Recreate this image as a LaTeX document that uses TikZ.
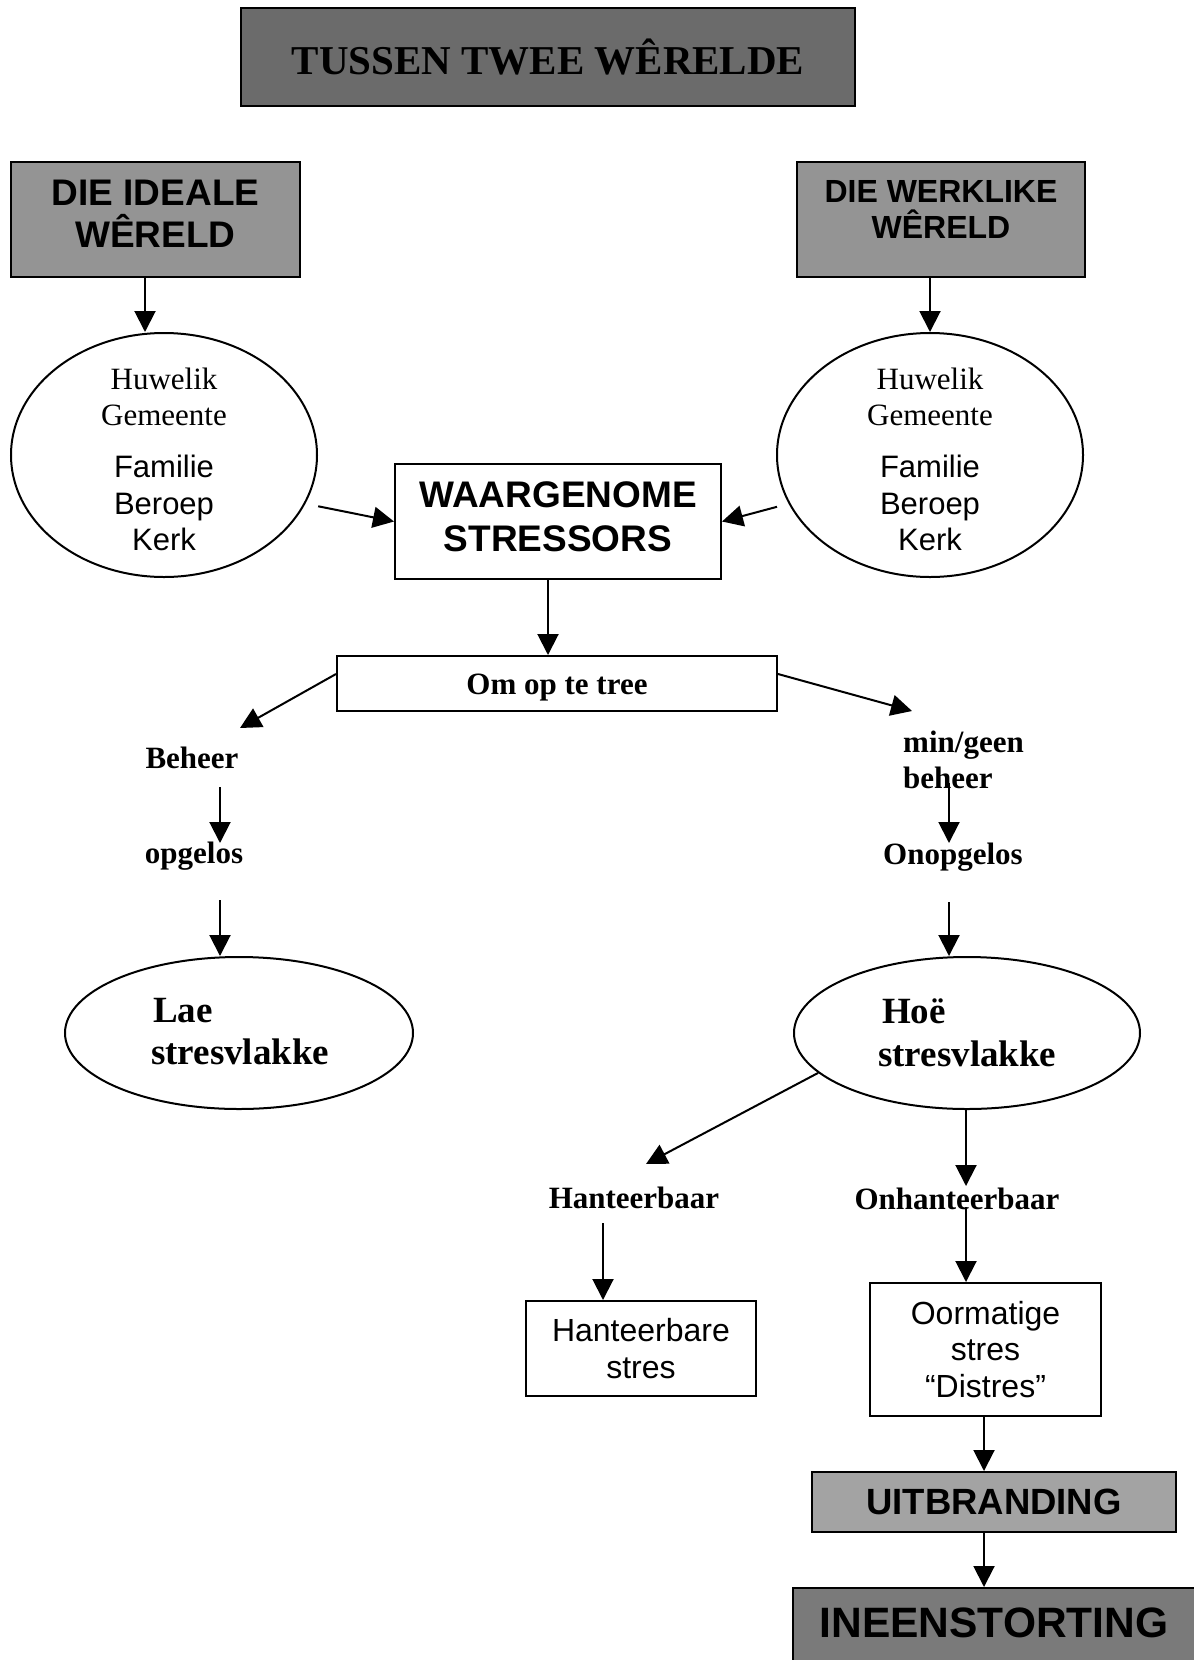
\documentclass[tikz,border=0pt]{standalone}
\usepackage{fontspec}
\setmainfont{Liberation Serif}
\setsansfont{Liberation Sans}
\usetikzlibrary{shapes.geometric,arrows.meta}
\begin{document}
\begin{tikzpicture}[x=1pt,y=-1pt,
  arr/.style={line width=2pt,-{Triangle[length=21pt,width=21pt]}},
  box/.style={draw,line width=2pt,rectangle,inner sep=0pt,align=center},
  ell/.style={draw,line width=2pt,ellipse,inner sep=0pt},
  ln/.style={inner sep=0pt,anchor=base},
  lbl/.style={inner sep=0pt,anchor=base,font=\fontsize{31}{36}\selectfont\bfseries},
  big/.style={inner sep=0pt,anchor=base west,font=\fontsize{37}{42}\selectfont\bfseries},
  ser/.style={ln,font=\fontsize{31}{36}\selectfont},
  san/.style={ln,font=\sffamily\fontsize{31}{36}\selectfont},
]
\useasboundingbox (0,0) rectangle (1194,1660);

% title
\node[box,fill=black!58,minimum width=614pt,minimum height=98pt,
  font=\fontsize{41}{45}\selectfont\bfseries] (title) at (548,57) {TUSSEN TWEE WÊRELDE};

% top boxes
\node[box,fill=black!42,minimum width=289pt,minimum height=115pt,text depth=12pt,
  font=\sffamily\bfseries\fontsize{37}{42}\selectfont] (ideale) at (155.5,219.5) {DIE IDEALE\\WÊRELD};
\node[box,fill=black!42,minimum width=288pt,minimum height=115pt,text depth=20pt,
  font=\sffamily\bfseries\fontsize{32}{36}\selectfont] (werklike) at (941,219.5) {DIE WERKLIKE\\WÊRELD};

% ellipses
\node[ell,minimum width=306pt,minimum height=244pt] (ellL) at (164,455) {};
\node[ser] (lHuw) at (164,389) {Huwelik};
\node[ser] (lGem) at (164,425) {Gemeente};
\node[san] (lFam) at (164,477) {Familie};
\node[san] (lBer) at (164,514) {Beroep};
\node[san] (lKer) at (164,550) {Kerk};

\node[ell,minimum width=306pt,minimum height=244pt] (ellR) at (930,455) {};
\node[ser] (rHuw) at (930,389) {Huwelik};
\node[ser] (rGem) at (930,425) {Gemeente};
\node[san] (rFam) at (930,477) {Familie};
\node[san] (rBer) at (930,514) {Beroep};
\node[san] (rKer) at (930,550) {Kerk};

% stressors
\node[box,minimum width=326pt,minimum height=115pt,text depth=9pt,
  font=\sffamily\bfseries\fontsize{37}{44}\selectfont] (stressors) at (558,521.5) {WAARGENOME\\STRESSORS};

\node[box,minimum width=440pt,minimum height=55pt,text height=22pt,text depth=0pt,
  font=\fontsize{31}{36}\selectfont\bfseries] (tree) at (557,683.5) {Om op te tree};

% left branch
\node[lbl] (beheer) at (192,768) {Beheer};
\node[lbl] (opgelos) at (194,863) {opgelos};
\node[ell,minimum width=348pt,minimum height=152pt] (lae) at (239,1033) {};
\node[big] (laeA) at (153,1022) {Lae};
\node[big] (laeB) at (151,1064) {stresvlakke};

% right branch
\node[lbl,anchor=base west] (mingeenA) at (903,752) {min/geen};
\node[lbl,anchor=base west] (mingeenB) at (903,788) {beheer};
\node[lbl] (onopgelos) at (953,864) {Onopgelos};
\node[ell,minimum width=346pt,minimum height=152pt] (hoe) at (967,1033) {};
\node[big] (hoeA) at (882,1023) {Hoë};
\node[big] (hoeB) at (878,1066) {stresvlakke};

\node[lbl] (hanteerbaar) at (634,1208) {Hanteerbaar};
\node[lbl] (onhanteerbaar) at (957,1209) {Onhanteerbaar};

\node[box,minimum width=230pt,minimum height=95pt,
  font=\sffamily\fontsize{32}{37}\selectfont] (hstres) at (641,1348.5) {Hanteerbare\\stres};
\node[box,minimum width=231pt,minimum height=133pt,
  font=\sffamily\fontsize{32}{36.5}\selectfont] (distres) at (985.5,1349.5) {Oormatige\\stres\\“Distres”};

\node[box,fill=black!36,minimum width=364pt,minimum height=60pt,
  font=\sffamily\bfseries\fontsize{36.5}{40}\selectfont] (uitbranding) at (994,1502) {UITBRANDING};
\node[box,fill=black!52,minimum width=402pt,minimum height=76pt,text depth=6pt,
  font=\sffamily\bfseries\fontsize{42.5}{46}\selectfont] (ineen) at (994,1626) {INEENSTORTING};

% connectors
\draw[arr] ([xshift=-10.5pt]ideale.south) -- ([xshift=-19pt]ellL.north);
\draw[arr] (ellR.north |- werklike.south) -- (ellR.north);
\draw[arr,shorten <=13pt] (ellL.-19) -- (stressors.west);
\draw[arr,shorten <=12pt] (ellR.199) -- (stressors.east);
\draw[arr] ([xshift=-10pt]stressors.south) -- ([xshift=-9pt]tree.north);
\draw[arr] ([yshift=9.5pt]tree.west) -- ([xshift=48pt,yshift=40pt]beheer.base);
\draw[arr] ([yshift=9.5pt]tree.east) -- ([xshift=9pt,yshift=41pt]mingeenA.base west);
\draw[arr] ([xshift=28pt,yshift=-19pt]beheer.base) -- ([xshift=26pt,yshift=20pt]opgelos.base);
\draw[arr] ([xshift=26pt,yshift=-37pt]opgelos.base) -- ([xshift=-19pt]lae.north);
\draw[arr] ([xshift=46pt,yshift=5pt]mingeenB.base west) -- ([xshift=-4pt,yshift=21pt]onopgelos.base);
\draw[arr] ([xshift=-4pt,yshift=-38pt]onopgelos.base) -- ([xshift=-18pt]hoe.north);
\draw[arr] (hoe.195) -- ([xshift=12pt,yshift=44pt]hanteerbaar.base);
\draw[arr] ([xshift=-1pt]hoe.south) -- ([xshift=9pt,yshift=23pt]onhanteerbaar.base);
\draw[arr] ([xshift=9pt,yshift=2pt]onhanteerbaar.base) -- ([xshift=-19.5pt]distres.north);
\draw[arr] ([xshift=-31pt,yshift=-15pt]hanteerbaar.base) -- ([xshift=-38pt]hstres.north);
\draw[arr] ([xshift=-1.5pt]distres.south) -- ([xshift=-10pt]uitbranding.north);
\draw[arr] ([xshift=-10pt]uitbranding.south) -- ([xshift=-10pt]ineen.north);
\end{tikzpicture}
\end{document}
